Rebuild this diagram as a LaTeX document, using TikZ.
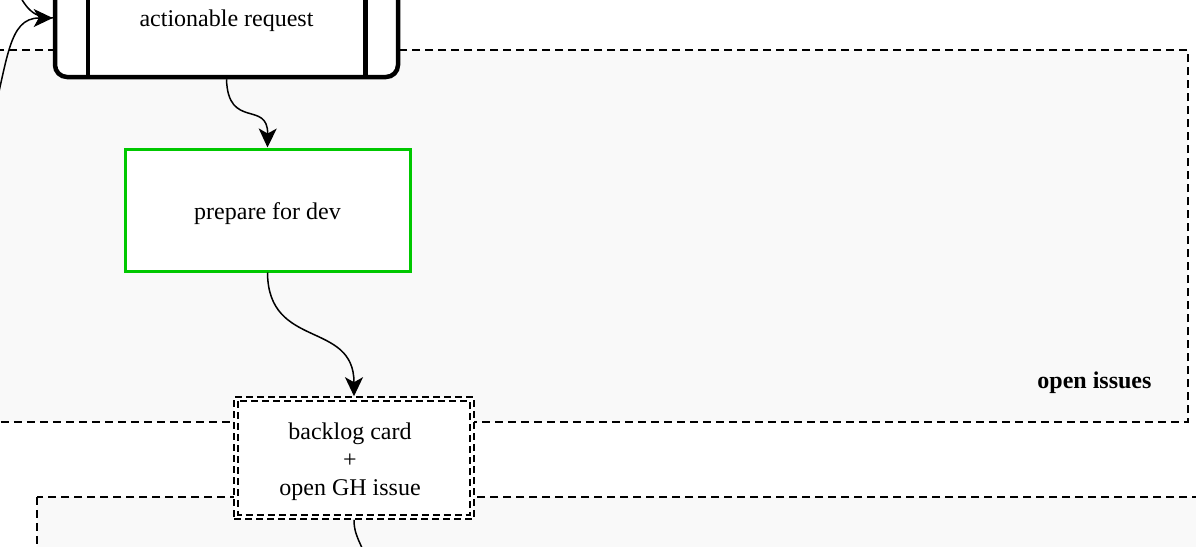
\documentclass[tikz,border=0pt]{standalone}
\usepackage{fontspec}
\setmainfont{Liberation Serif}
\usetikzlibrary{arrows.meta}
\definecolor{clusterfill}{HTML}{F9F9F9}
\definecolor{devgreen}{HTML}{00C800}
\begin{document}
\begin{tikzpicture}[x=1pt,y=-1pt,
  every node/.style={font=\fontsize{24}{28}\selectfont},
  cluster/.style={draw=black,fill=clusterfill,line width=1.6pt,dash pattern=on 8pt off 5pt},
  arr/.style={line width=1.5pt,-{Stealth[length=19pt,width=18pt,inset=5pt]}},
  plain/.style={line width=1.5pt},
  procbox/.style={draw=black,fill=white,line width=4.5pt,rounded corners=12pt,minimum width=343pt,minimum height=118pt,inner sep=0pt},
  greenbox/.style={draw=devgreen,fill=white,line width=3pt,minimum width=285pt,minimum height=122pt,inner sep=0pt},
  dashbox/.style={draw=black,fill=white,line width=1.6pt,dash pattern=on 7pt off 4pt,minimum width=240pt,minimum height=122pt,inner sep=0pt,align=center}
]
\useasboundingbox (0,0) rectangle (1196,546);
\begin{scope}
\clip (0,0) rectangle (1196,546);
% clusters
\draw[cluster] (-30,50) rectangle (1188,422);
\node[font=\fontsize{24}{28}\selectfont\bfseries,anchor=east] (lbl) at (1155,383) {open issues};
\draw[cluster] (37,497) rectangle (1230,620);
% nodes
\node[procbox] (a) at (226.5,18) {};
\node (at) at (226.5,21) {actionable request};
\draw[line width=4.5pt] ([xshift=35pt]a.north west) -- ([xshift=35pt]a.south west);
\draw[line width=4.5pt] ([xshift=-35pt]a.north east) -- ([xshift=-35pt]a.south east);
\node[greenbox] (p) at (267.5,210) {};
\node (pt) at (267.5,214) {prepare for dev};
\node[dashbox] (b) at (354,458) {};
\node[align=center] (bt) at (350,462) {backlog card\\+\\open GH issue};
\draw[line width=1.6pt,dash pattern=on 7pt off 4pt] ([xshift=5pt,yshift=-5pt]b.north west) rectangle ([xshift=-5pt,yshift=5pt]b.south east);
% free ends
\coordinate (in1) at (15,-15);
\coordinate (in2) at (-10,130);
\coordinate (out) at (370,575);
% connectors
\draw[plain] (in1) .. controls (25,10) and (35,18) .. (a.west);
\draw[arr] (in2) .. controls (8,60) and (8,18) .. (a.west);
\draw[arr] (a.south) .. controls (228,130) and (268,100) .. (p.north);
\draw[arr] (p.south) .. controls (268,350) and (354,320) .. (b.north);
\draw[plain] (b.south) .. controls (354,540) and (365,545) .. (out);
\end{scope}
\end{tikzpicture}
\end{document}
